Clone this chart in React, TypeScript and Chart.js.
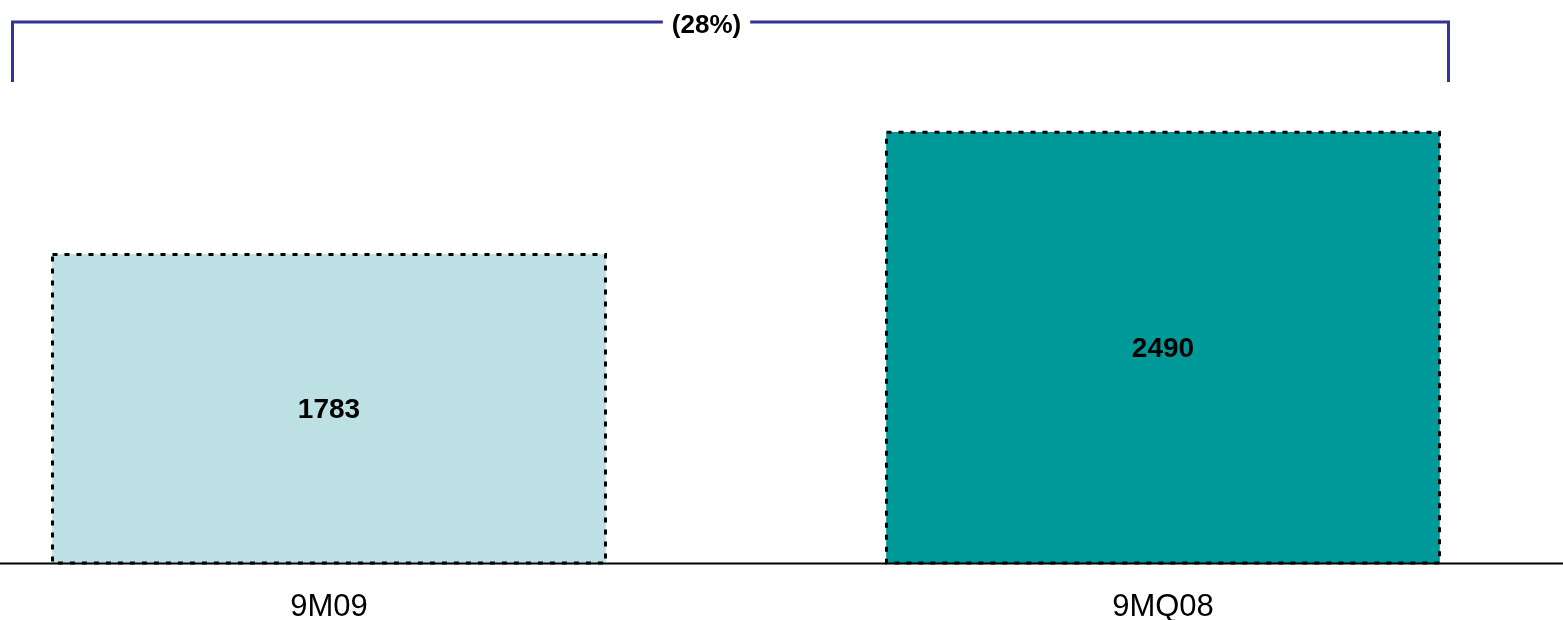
import React, { useEffect, useRef } from 'react';
import { Chart, registerables } from 'chart.js';
Chart.register(...registerables);

const categories = ['9M09', '9MQ08'];
const values = [1783, 2490];
const barColors = ['#BCE0E3', '#009999'];
const changeLabel = '(28%)';

const FONT = '"Liberation Sans", Arial, Helvetica, sans-serif';

export default function App() {
  const ref = useRef<HTMLCanvasElement>(null);
  useEffect(() => {
    document.body.style.margin = '0';
    const canvas = ref.current!;
    const overlay = {
      id: 'overlay',
      afterDatasetsDraw(chart: any) {
        const ctx = chart.ctx;
        const meta = chart.getDatasetMeta(0);
        ctx.save();
        meta.data.forEach((bar: any, i: number) => {
          const { x, y, base, width } = bar.getProps(['x', 'y', 'base', 'width'], true);
          ctx.setLineDash([5, 7]);
          ctx.lineWidth = 3;
          ctx.strokeStyle = '#000';
          ctx.strokeRect(x - width / 2, y, width, base - y);
          ctx.setLineDash([]);
          ctx.fillStyle = '#000';
          ctx.font = `bold 28px ${FONT}`;
          ctx.textAlign = 'center';
          ctx.textBaseline = 'middle';
          ctx.fillText(String(values[i]), x, (y + base) / 2 + 2);
        });
        ctx.restore();
      },
      afterDraw(chart: any) {
        const ctx = chart.ctx;
        const yScale = chart.scales.y;
        const y0 = yScale.getPixelForValue(0);
        ctx.save();
        ctx.strokeStyle = '#000';
        ctx.lineWidth = 2;
        ctx.beginPath();
        ctx.moveTo(0, y0 + 0.5);
        ctx.lineTo(chart.width, y0 + 0.5);
        ctx.stroke();

        // bracket annotation
        const meta = chart.getDatasetMeta(0);
        const b0 = meta.data[0].getProps(['x', 'width'], true);
        const b1 = meta.data[meta.data.length - 1].getProps(['x', 'width'], true);
        const left = b0.x - b0.width / 2 - 40;
        const right = b1.x + b1.width / 2 + 9;
        const top = 22;
        const bottom = 82;
        const cx = (left + right) / 2 - 24;
        ctx.font = `bold 26px ${FONT}`;
        const tw = ctx.measureText(changeLabel).width;
        const gap = 9;
        ctx.strokeStyle = '#333399';
        ctx.lineWidth = 3;
        ctx.lineCap = 'butt';
        ctx.beginPath();
        ctx.moveTo(left, bottom);
        ctx.lineTo(left, top);
        ctx.lineTo(cx - tw / 2 - gap, top);
        ctx.moveTo(cx + tw / 2 + gap, top);
        ctx.lineTo(right, top);
        ctx.lineTo(right, bottom);
        ctx.stroke();
        ctx.fillStyle = '#000';
        ctx.textAlign = 'center';
        ctx.textBaseline = 'middle';
        ctx.fillText(changeLabel, cx, top + 4);
        ctx.restore();
      },
    };
    const chart = new Chart(canvas, {
      type: 'bar',
      data: {
        labels: categories,
        datasets: [
          {
            data: values,
            backgroundColor: barColors,
            borderWidth: 0,
            barThickness: 553,
            clip: false as any,
          },
        ],
      },
      options: {
        responsive: false,
        animation: false,
        devicePixelRatio: 1,
        layout: { padding: { left: 329, right: 400, top: 44, bottom: 0 } },
        plugins: { legend: { display: false }, tooltip: { enabled: false } },
        scales: {
          x: {
            type: 'category',
            offset: false,
            grid: { display: false, drawTicks: false },
            border: { display: false },
            ticks: {
              color: '#000',
              font: { family: FONT, size: 31 },
              padding: 26,
              autoSkip: false,
              maxRotation: 0,
            },
            afterFit: (scale: any) => {
              scale.height = 57;
            },
          },
          y: {
            display: false,
            min: 0,
            max: 3000,
          },
        },
      },
      plugins: [overlay],
    });
    return () => chart.destroy();
  }, []);
  return (
    <div style={{ width: 1563, height: 620 }}>
      <canvas ref={ref} width={1563} height={620} style={{ display: 'block' }} />
    </div>
  );
}
